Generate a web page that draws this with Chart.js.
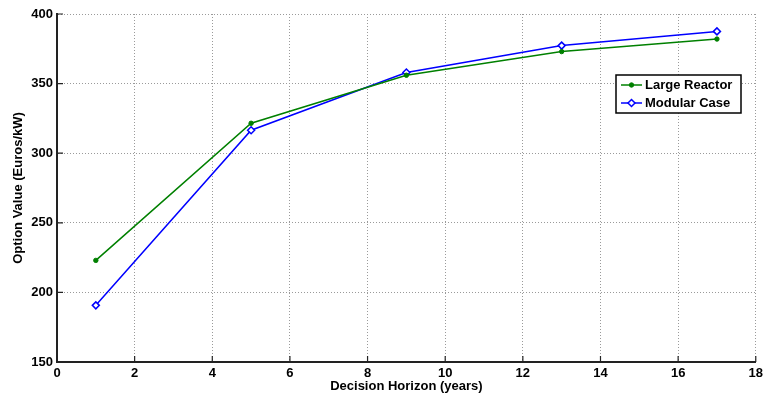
<!DOCTYPE html>
<html lang="en">
  <head>
    <meta charset="UTF-8" />
    <script src="https://cdn.jsdelivr.net/npm/chart.js"></script>
    <title>Option Value</title>
    <style>
      html, body { margin: 0; padding: 0; background: #fff; }
      #wrap { width: 767px; height: 397px; }
    </style>
  </head>
  <body>
    <div id="wrap"><canvas id="myChart" width="767" height="397"></canvas></div>

    <script>
      const horizons = [1, 5, 9, 13, 17];
      const largeReactor = [223, 321.5, 356, 373, 382];
      const modularCase = [190.7, 316.5, 358, 377.3, 387.5];
      const xTicks = [0, 2, 4, 6, 8, 10, 12, 14, 16, 18];
      const yTicks = [150, 200, 250, 300, 350, 400];

      const FONT = "'Liberation Sans', Arial, sans-serif";
      const GREEN = "rgb(0,128,0)";
      const BLUE = "rgb(0,0,255)";

      const toPoints = (ys) => horizons.map((x, i) => ({ x: x, y: ys[i] }));

      // inward tick marks, matlab style
      const innerTicks = {
        id: "innerTicks",
        afterDraw(chart) {
          const c = chart.ctx;
          const xs = chart.scales.x;
          const ys = chart.scales.y;
          const a = chart.chartArea;
          c.save();
          c.strokeStyle = "#222";
          c.lineWidth = 1.2;
          c.beginPath();
          xTicks.forEach((v) => {
            const px = xs.getPixelForValue(v);
            c.moveTo(px, a.bottom);
            c.lineTo(px, a.bottom - 6);
          });
          yTicks.forEach((v) => {
            const py = ys.getPixelForValue(v);
            c.moveTo(a.left, py);
            c.lineTo(a.left + 6, py);
          });
          c.stroke();
          c.restore();
        },
      };

      // legend box in upper right
      const boxLegend = {
        id: "boxLegend",
        afterDraw(chart) {
          const c = chart.ctx;
          const left = 616, top = 75, w = 125, h = 38;
          c.save();
          c.fillStyle = "#fff";
          c.fillRect(left, top, w, h);
          c.strokeStyle = "#000";
          c.lineWidth = 1.5;
          c.strokeRect(left, top, w, h);
          c.font = "bold 13px " + FONT;
          c.textBaseline = "middle";
          chart.data.datasets.forEach((ds, i) => {
            const y = top + 10 + i * 18;
            c.strokeStyle = ds.borderColor;
            c.lineWidth = 1.5;
            c.beginPath();
            c.moveTo(left + 5, y);
            c.lineTo(left + 26, y);
            c.stroke();
            c.fillStyle = ds.pointBackgroundColor;
            c.strokeStyle = ds.borderColor;
            c.lineWidth = ds.pointBorderWidth;
            Chart.helpers.drawPoint(
              c,
              {
                pointStyle: ds.pointStyle,
                radius: ds.pointRadius,
                borderWidth: ds.pointBorderWidth,
              },
              left + 15.5,
              y
            );
            c.fillStyle = "#000";
            c.fillText(ds.label, left + 29, y + 0.5);
          });
          c.restore();
        },
      };

      const ctx = document.getElementById("myChart");

      const chart = new Chart(ctx, {
        type: "scatter",
        data: {
          datasets: [
            {
              label: "Large Reactor",
              data: toPoints(largeReactor),
              showLine: true,
              borderColor: GREEN,
              backgroundColor: GREEN,
              borderWidth: 1.5,
              pointStyle: "circle",
              pointRadius: 2.2,
              pointBorderWidth: 1,
              pointBackgroundColor: GREEN,
            },
            {
              label: "Modular Case",
              data: toPoints(modularCase),
              showLine: true,
              borderColor: BLUE,
              backgroundColor: BLUE,
              borderWidth: 1.5,
              pointStyle: "rectRot",
              pointRadius: 3.5,
              pointBorderWidth: 1.5,
              pointBackgroundColor: "#fff",
            },
          ],
        },
        options: {
          responsive: false,
          animation: false,
          layout: { padding: { top: 14, right: 10, left: 12, bottom: 0 } },
          plugins: {
            legend: { display: false },
            tooltip: { enabled: false },
          },
          scales: {
            x: {
              type: "linear",
              min: 0,
              max: 18,
              afterBuildTicks: (s) => {
                s.ticks = xTicks.map((v) => ({ value: v }));
              },
              afterFit: (s) => {
                s.height = 35;
              },
              grid: { color: "#9a9a9a", drawTicks: false },
              border: { display: true, color: "#222", width: 2, dash: [1, 2] },
              ticks: {
                color: "#000",
                padding: 4,
                maxRotation: 0,
                font: { family: FONT, size: 13, weight: "bold" },
              },
              title: {
                display: true,
                text: "Decision Horizon (years)",
                color: "#000",
                padding: { top: 0, bottom: 4 },
                font: { family: FONT, size: 13, weight: "bold", lineHeight: 1 },
              },
            },
            y: {
              min: 150,
              max: 400,
              afterBuildTicks: (s) => {
                s.ticks = yTicks.map((v) => ({ value: v }));
              },
              afterFit: (s) => {
                s.width = 45;
              },
              grid: { color: "#9a9a9a", drawTicks: false },
              border: { display: true, color: "#222", width: 2, dash: [1, 2] },
              ticks: {
                color: "#000",
                padding: 4,
                font: { family: FONT, size: 13, weight: "bold" },
              },
              title: {
                display: true,
                text: "Option Value (Euros/kW)",
                color: "#000",
                padding: { top: 0, bottom: 0 },
                font: { family: FONT, size: 13, weight: "bold", lineHeight: 1 },
              },
            },
          },
        },
        plugins: [innerTicks, boxLegend],
      });
    </script>
  </body>
</html>
